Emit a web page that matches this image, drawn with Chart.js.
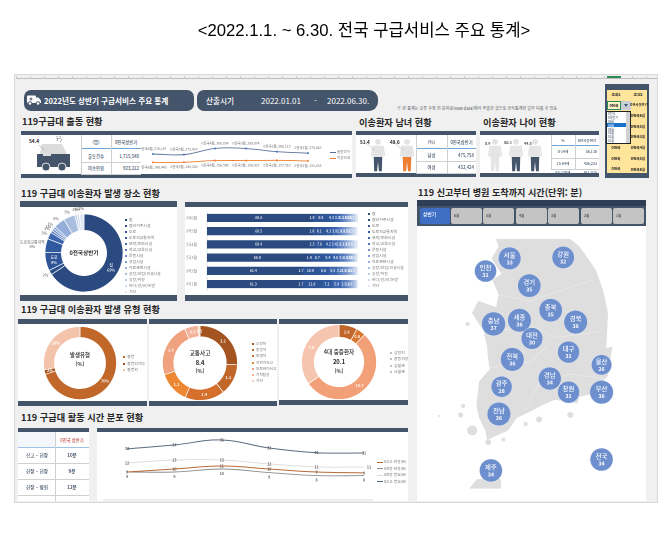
<!DOCTYPE html>
<html lang="ko"><head><meta charset="utf-8">
<style>
html,body{margin:0;padding:0;background:#fff;width:672px;height:553px;overflow:hidden}
#root{position:absolute;left:0;top:0;width:672px;height:553px;font-family:"Liberation Sans","Noto Sans CJK KR",sans-serif}
#dash{position:absolute;left:0;top:0;width:672px;height:553px;font-family:"Noto Sans CJK KR",sans-serif;filter:blur(.45px)}
.a{position:absolute;box-sizing:border-box}
.t{position:absolute;white-space:nowrap;line-height:1}
canvas{position:absolute}
svg{display:block}
</style>
<script src="https://cdn.jsdelivr.net/npm/chart.js@4"></script>
</head><body><div id="root"><div id="dash"></div></div>
<script>
// ---------- data ----------
const pageTitle = "<2022.1.1. ~ 6.30. 전국 구급서비스 주요 통계>";
const monthLabels = ["0전국6월","0전국5월","0전국4월","0전국3월","0전국2월","0전국1월"];
const dispatchCount = [276197,273437,300054,299874,286115,279863];
const transportCount = [148440,149200,156580,156427,157510,155055];
const placeLabels = ["집","집단거주시설","도로","도로외교통지역","오락/문화시설","학교/교육시설","운동시설","상업시설","의료관련시설","공장/산업/건설시설","농장/어장","바다/강/산/논밭","기타"];
const placeShare = [69,2,8,6,3,1,1,1,5,5,1,1,2];
const placeJun = [68.6,1.9,9.8,4.3,3.3,2.2,1.9,1.6,1.5,1.3,1.2,1.0,1.4];
const placeMay = [68.5,1.8,8.1,4.3,3.8,2.4,2.0,1.7,1.6,1.5,1.3,1.0,1.5];
const placeApr = [68.4,2.3,7.6,4.2,3.4,2.5,2.1,1.8,1.7,1.6,1.3,1.1,1.6];
const placeMar = [66.8,1.9,8.7,5.4,4.6,3.5,1.9,1.6,1.5,1.3,1.0,0.5,0.9];
const placeFeb = [61.4,1.7,10.8,6.6,5.5,3.2,2.8,1.9,1.7,1.3,1.1,0.8,1.2];
const placeJan = [61.3,1.7,12.8,7.2,5.9,3.5,1.6,1.4,1.2,1.0,0.8,0.7,1.0];
const typeLabels = ["질병","질병외기타","질병외"];
const typeValues = [70,2,28];
const trafficLabels = ["운전자","동승자","보행자","자전거사고","오토바이사고","기차탑승","기타"];
const trafficValues = [2.1,1.1,1.4,1.1,1.9,0.5,0.05];
const severeLabels = ["심정지","중증외상","심혈관","뇌혈관"];
const severeValues = [1.6,0.8,10.7,7.0];
const timeSeriesNames = ["0신고-현장(분)","0현장-현장(분)","0현장-병원(분)","0신고-병원(분)"];
const callToScene = [9,10,11,10,9,8.7];
const sceneOnSite = [9,9,10,8.8,7.8,7.8];
const sceneToHospital = [12,13,13,11.7,10.7,10.7];
const callToHospital = [32.6,34.1,36,32.9,31.1,31];
const regionNames = ["서울","강원","인천","경기","충북","경북","세종","충남","대전","대구","전북","울산","경남","광주","창원","부산","전남","제주","전국"];
const regionMinutes = [33,32,31,35,35,36,36,37,30,31,36,26,34,28,31,36,36,34,34];
const regionLon = [127.2,129.0,126.39,127.86,128.58,129.42,127.53,126.66,127.95,129.18,127.29,130.29,128.55,126.93,129.18,130.29,126.84,126.57,130.29];
const regionLat = [38.44,38.46,38.16,37.84,37.30,37.04,37.08,37.0,36.68,36.38,36.22,36.10,35.80,35.62,35.50,35.50,35.02,33.78,34.02];
const landLon = [126.75,129.24,129.54,130.08,130.35,130.50,130.44,130.65,130.59,130.50,129.93,129.54,129.48,128.73,128.43,127.83,127.44,127.14,126.45,126.39,126.18,126.09,126.18,126.54,126.48,126.45,126.33,125.94,126.15,126.75,126.84,126.63,126.93,126.60,126.84,126.75];
const landLat = [38.86,38.86,38.70,38.20,37.70,37.24,36.46,36.50,36.26,35.86,35.46,35.40,35.26,35.34,35.26,35.06,34.94,34.66,34.46,34.66,34.94,35.20,35.74,36.00,36.26,36.50,36.84,37.24,37.50,37.36,37.64,37.96,38.10,38.44,38.70,38.86];
const jejuLon = [125.85,126.09,126.69,126.90,126.90,125.85];
const jejuLat = [33.38,33.58,33.62,33.58,33.38,33.38];
const islandLon = [125.94,125.55,125.64,124.83,126.48,126.99,128.19,129.24,127.74,125.79];
const islandLat = [34.66,35.0,35.2,34.98,34.40,34.46,34.9,35.0,34.8,37.0];
const borderLon = [126.84,127.89,128.94,129.99,null,126.39,127.89,128.79,130.35,null,126.54,127.89,128.43,null,127.74,128.19,129.24,130.44];
const borderLat = [37.64,37.50,37.74,37.96,null,36.80,36.96,36.70,36.84,null,36.04,36.16,36.50,null,35.10,35.70,35.90,35.80];
const sliceLabels = ["상반기","6월","5월","4월","3월","2월","1월"];

// ---------- helpers ----------
const NAVY="#44546a", LEG="#737373", INK="#262626";
const dash=document.getElementById("dash");
function box(x,y,w,h,css){const d=document.createElement("div");d.className="a";d.style.cssText=`left:${x}px;top:${y}px;width:${w}px;height:${h}px;${css||""}`;dash.appendChild(d);return d;}
function txt(x,y,s,size,color,weight,align,parent){const d=document.createElement("div");d.className="t";d.textContent=s;
 const tx=align==="c"?"-50%":align==="r"?"-100%":"0";
 d.style.cssText=`left:${x}px;top:${y}px;font-size:${size}px;color:${color||INK};font-weight:${weight||400};transform:translate(${tx},-50%)`;(parent||dash).appendChild(d);return d;}
function legend(x,y,step,labels,colors,size){labels.forEach((l,i)=>{box(x,y+i*step-1,2,2,`background:${colors[i]}`);txt(x+4,y+i*step,l,size||4.2,LEG);});}
function panel(x,y,w,h,bandTop,bandBot){box(x,y,w,h,"background:#fff");box(x,y,w,bandTop,`background:${NAVY}`);box(x,y+h-bandBot,w,bandBot,`background:${NAVY}`);}
function svg(x,y,w,h,inner){const d=box(x,y,w,h);d.innerHTML=`<svg width="${w}" height="${h}" viewBox="0 0 ${w} ${h}" xmlns="http://www.w3.org/2000/svg">${inner}</svg>`;}
function chart(x,y,w,h,cfg){const c=document.createElement("canvas");c.width=w;c.height=h;c.style.cssText=`left:${x}px;top:${y}px;width:${w}px;height:${h}px`;dash.appendChild(c);
 cfg.options=Object.assign({responsive:false,animation:false,devicePixelRatio:2},cfg.options||{});
 cfg.options.plugins=Object.assign({legend:{display:false},tooltip:{enabled:false}},cfg.options.plugins||{});
 return new Chart(c,cfg);}
const KR='"Noto Sans CJK KR"';
function miniTable(x,y,widths,rowH,rows,size){
 let cy=y;const W=widths[0]+widths[1];
 rows.forEach((r,i)=>{
  txt(x+widths[0]/2,cy+rowH[i]/2,r[0],size,"#44546a",500,"c");
  txt(i?x+W-2:x+widths[0]+widths[1]/2,cy+rowH[i]/2,r[1],size,"#44546a",500,i?"r":"c");
  cy+=rowH[i];
  box(x,cy-(i?0.5:1),W,i?1:1.4,`background:${i?"#cfcfcf":"#6ea6d9"}`);
 });
 box(x,y,1,cy-y,"background:#cfcfcf");box(x+widths[0],y,1,cy-y,"background:#cfcfcf");
}

// ---------- frame ----------
const title=document.createElement("div");title.className="t";title.textContent=pageTitle;
title.style.cssText="left:364px;top:31px;font-size:16.7px;color:#000;transform:translate(-50%,-50%)";document.getElementById("root").appendChild(title);
box(14,74,644,429,"background:#f0f0f0;border:1px solid #d8d8d8");
box(16,78,641,1,"background:#bdbdbd");
box(16,76,641,3,"background-image:repeating-linear-gradient(90deg,#c8c8c8 0 1px,transparent 1px 14px)");
box(607,76,14,2,"background:#2e8b57");

// header pills
box(24,90,170,21,`background:${NAVY};border-radius:7px`);
box(197,90,181,21,`background:${NAVY};border-radius:7px 9px 9px 7px`);
svg(26,94,16,12,'<rect x="1" y="1.5" width="9" height="7.5" rx="1" fill="#fff"/><path d="M10 3.5h2.5l2.5 3v2.5h-5z" fill="#fff"/><circle cx="4" cy="9.5" r="1.8" fill="#fff" stroke="#44546a"/><circle cx="12" cy="9.5" r="1.8" fill="#fff" stroke="#44546a"/><path d="M5 3.5v3M3.5 5h3" stroke="#44546a" stroke-width="1"/>');
txt(44,100.5,"2022년도 상반기 구급서비스 주요 통계",7.6,"#fff",700);
txt(206,100.5,"산출시기",7.6,"#fff",500);
txt(261,100.5,"2022.01.01",8,"#fff",400);
txt(314,100.5,"-",8,"#fff",400);
txt(327,100.5,"2022.06.30.",8,"#fff",400);
txt(397,108,"※ 본 통계는 오류 수정 전 원자료(Raw data)에서 추출한 것으로 공식통계와 일부 다를 수 있음",4.1,"#595959");

// section titles
txt(22,122,"119구급대 출동 현황",9.2,INK,600);
txt(359,123,"이송환자 남녀 현황",9.2,INK,600);
txt(483,123,"이송환자 나이 현황",9.2,INK,600);
txt(21,194,"119 구급대 이송환자 발생 장소 현황",9.2,INK,600);
txt(21,310,"119 구급대 이송환자 발생 유형 현황",9.2,INK,600);
txt(21,418,"119 구급대 활동 시간 분포 현황",9.2,INK,600);
txt(418,193,"119 신고부터 병원 도착까지 시간(단위: 분)",9.1,INK,600);

// ---------- dispatch row ----------
panel(21,131,331,47,4,4);
svg(21,135,60,39,`<path d="M21 9h20l6 12v6H17z" fill="#dcdcdc"/><path d="M18 10l14 13" stroke="#a6a6a6" stroke-width=".7"/><path d="M16 19h33v13H16z" fill="#44546a"/><circle cx="25" cy="32" r="4" fill="#44546a" stroke="#fff" stroke-width=".8"/><circle cx="41" cy="32" r="4" fill="#44546a" stroke="#fff" stroke-width=".8"/><rect x="22" y="15" width="8" height="6" fill="#dcdcdc"/><path d="M36 6l1-3M39 7l2-3" stroke="#666" stroke-width=".6"/>`);
txt(29,141,"54.4",4.8,"#262626",700);
txt(56,138,"1.2",3.6,"#595959");
miniTable(81,135,[30,30],[14,13,12],[["(명)","0전국상반기"],["출동건수","1,715,540"],["이송인원","923,212"]],4.3);
const pointText={id:"pointText",afterDatasetsDraw(c){const g=c.ctx;g.save();g.font=`3.4px ${KR}`;g.fillStyle="#666";g.textAlign="center";
 c.data.datasets.forEach((d,i)=>c.getDatasetMeta(i).data.forEach((p,j)=>{g.fillText(`${c.data.labels[j]}, ${d.data[j].toLocaleString("en-US")}`,p.x,p.y+(i?6:-4));}));g.restore();}};
chart(141,135,211,39,{type:"line",data:{labels:monthLabels,datasets:[
 {data:dispatchCount,borderColor:"#5b7297",borderWidth:.9,pointRadius:1,pointBackgroundColor:"#4472c4",pointBorderWidth:0,tension:.4,yAxisID:"y"},
 {data:transportCount,borderColor:"#ed7d31",borderWidth:.9,pointRadius:1,pointBackgroundColor:"#ed7d31",pointBorderWidth:0,tension:.4,yAxisID:"y2"}]},
 options:{layout:{padding:{left:12,right:44,top:0,bottom:0}},scales:{x:{display:false,offset:false},y:{display:false,min:207000,max:341000},y2:{display:false,min:115000,max:251500}}},plugins:[pointText]});
box(330,152,6,.8,"background:#5b7297");box(330,158,6,.8,"background:#ed7d31");
txt(337,152.4,"출동건수",3.6,LEG);txt(337,158.4,"이송인원",3.6,LEG);

// ---------- gender ----------
function person(cx,top,s,body,legs){return `<g transform="translate(${cx},${top}) scale(${s})"><circle cx="0" cy="3" r="3" fill="#e3e3e3"/><path d="M-5 7h10l1 12h-12z" fill="${body}"/><path d="M-5 7l-2 11M5 7l2 11" stroke="${body}" stroke-width="1.6"/><path d="M-4.5 19h9l-.5 15h-3l-1-10-1 10h-3z" fill="${legs}"/></g>`;}
panel(356,131,120,46,4,4);
svg(356,135,60,38,person(22,4,.95,"#e3e3e3","#44546a")+person(51,4,.95,"#e3e3e3","#ed7d31")+'<path d="M9 7l9 8M37 7l10 8" stroke="#a6a6a6" stroke-width=".5" fill="none"/>');
txt(360,141.5,"51.4",4.6,"#262626",700);txt(390,141.5,"48.6",4.6,"#262626",700);
miniTable(416,135,[31,29],[14,12,12],[["(%)","0전국상반기"],["남성","475,758"],["여성","452,424"]],4.3);

// ---------- age ----------
panel(480,131,119,46,4,4);
svg(480,135,71,38,person(15,4,.95,"#e5e5e5","#e5e5e5")+person(36,4,.95,"#e5e5e5","#44546a")+person(55,4,.95,"#e5e5e5","#44546a"));
txt(485,144,"5.9",3.8,"#262626",500);txt(504,143,"50.3",3.8,"#262626",500);txt(524,144,"44.5",3.8,"#262626",500);
miniTable(551,135,[24,24],[11,12,11],[["%","0전국상반기"],["0-14세","56,116"],["15-64세","456,223"]],3.6);
txt(563,173,"65-120세",3.6,"#44546a",500,"c");txt(597,172.5,"411,015",3.6,"#44546a",500,"r");

// ---------- selector ----------
box(605,84,44,94,`background:${NAVY}`);
box(607,90,40,83,"background:#ffe49b");
txt(616,95,"조회1",3.8,"#262626",700,"c");txt(638,95,"조건2",3.8,"#262626",700,"c");
box(607,101,14,9,"background:#fff3c9;border:1px solid #2e8b57");
txt(614,105.5,"0전국",3.8,"#262626",700,"c");
box(621,101,10,9,"background:#c9ced6");
svg(623,103,6,5,'<path d="M1 1h4L3 4z" fill="#44546a"/>');
txt(639,105,"0전국상반기",3.4,"#262626",700,"c");
box(606,111,25,33,"background:#fff;border:1px solid #222");
["전국","상반기","6월","5월","4월","3월","2월","1월"].forEach((s,i)=>{if(i===3)box(607,123.2,19,3.6,"background:#1a73c8");txt(608,114.4+i*3.8,"0"+s,3,i===3?"#fff":"#44546a");});
box(626,112,4,31,"background:#d0d0d0");
["0전국6월","0전국5월","0전국3월","0전국4월","0전국5월","0전국6월"].forEach((s,i)=>{txt(638,116+i*10.7,s,3.7,"#262626",700,"c");});
[148,159,169].forEach(y=>txt(616,y,"0전국",3.7,"#262626",700,"c"));

// ---------- place doughnut ----------
const blues=["#2a4a80","#2c4e88","#2f5597","#305a9f","#3d66ae","#5379bd","#6a8bc7","#7f9cd0","#94add9","#a9bde1","#bdcde9","#d0dcf0","#e3eaf6"];
panel(20,201,157,100,6,6);
const placeLabelsPlugin={id:"placeLab",afterDatasetsDraw(c){const g=c.ctx;g.save();const cx=c.getDatasetMeta(0).data[0].x,cy=c.getDatasetMeta(0).data[0].y;g.textAlign="center";g.textBaseline="middle";
 c.getDatasetMeta(0).data.forEach((a,i)=>{const m=(a.startAngle+a.endAngle)/2,v=placeShare[i]+"%";
  if(i===0||i===2){g.fillStyle="#fff";g.font=`500 3.8px ${KR}`;const r=(a.innerRadius+a.outerRadius)/2,x=cx+Math.cos(m)*r,y=cy+Math.sin(m)*r;g.fillText(placeLabels[i],x,y-2.5);g.fillText(v,x,y+2.5);}
  else{const oi=a.outerRadius,r=oi+5.5,x=cx+Math.cos(m)*r,y=cy+Math.sin(m)*r;g.strokeStyle="#bfbfbf";g.lineWidth=.3;g.beginPath();g.moveTo(cx+Math.cos(m)*oi,cy+Math.sin(m)*oi);g.lineTo(cx+Math.cos(m)*(oi+3),cy+Math.sin(m)*(oi+3));g.stroke();g.fillStyle="#595959";g.font=`3.8px ${KR}`;
   if(i===3){g.fillText(placeLabels[i],x-8,y-2.5);g.fillText(v,x-8,y+2);}else g.fillText(v,x,y);}
 });
 g.fillStyle="#262626";g.font=`700 5.6px ${KR}`;g.fillText("0전국상반기",cx,cy);g.restore();}};
chart(19,207,130,92,{type:"doughnut",data:{labels:placeLabels,datasets:[{data:placeShare,backgroundColor:blues,borderColor:"#fff",borderWidth:.7}]},options:{radius:39,cutout:"58%"},plugins:[placeLabelsPlugin]});
legend(125,219.5,6.05,placeLabels,blues,3.9);

// ---------- place bars ----------
panel(185,202,223,99,5,6);
const barText={id:"barText",afterDatasetsDraw(c){const g=c.ctx;g.save();g.font=`500 3.5px ${KR}`;g.fillStyle="#fff";g.textAlign="center";g.textBaseline="middle";
 c.data.datasets.forEach((d,i)=>{if(i>9)return;c.getDatasetMeta(i).data.forEach((b,j)=>{const v=d.data[j];if(v>=1.3)g.fillText(v.toFixed(1),(b.base+b.x)/2,b.y);});});g.restore();}};
const placeRows=[placeJun,placeMay,placeApr,placeMar,placeFeb,placeJan];
chart(186,207,172,88,{type:"bar",data:{labels:monthLabels,datasets:placeLabels.map((l,k)=>({label:l,data:placeRows.map(r=>r[k]),backgroundColor:blues[k],barThickness:7.5}))},
 options:{indexAxis:"y",layout:{padding:{top:3.2,bottom:3.2}},scales:{x:{display:false,stacked:true,min:0,max:100},
 y:{stacked:true,grid:{display:false},border:{color:"#d9d9d9",width:.7},ticks:{font:{size:3.8,family:KR},color:"#7f7f7f",padding:2},afterFit(s){s.width=21;}}}},plugins:[barText]});
legend(368,214,6.0,placeLabels,blues,3.9);

// ---------- type doughnuts ----------
function arcValueLabels(fmt){return {id:"arcVal",afterDatasetsDraw(c){const g=c.ctx;g.save();g.fillStyle="#fff";g.font=`700 3.8px ${KR}`;g.textAlign="center";g.textBaseline="middle";
 const d=c.data.datasets[0].data;c.getDatasetMeta(0).data.forEach((a,i)=>{const m=(a.startAngle+a.endAngle)/2,r=(a.innerRadius+a.outerRadius)/2;g.fillText(fmt(d[i]),a.x+Math.cos(m)*r,a.y+Math.sin(m)*r);});g.restore();}};}
panel(18,319,129,87,5,5);
const typeColors=["#c1672a","#a9551f","#f4c3ac"];
chart(18,324,129,78,{type:"doughnut",data:{labels:typeLabels,datasets:[{data:typeValues,backgroundColor:typeColors,borderColor:"#fff",borderWidth:.7}]},options:{radius:36.5,cutout:"70%",layout:{padding:{right:5,bottom:0}}},plugins:[arcValueLabels(v=>v+"%")]});
txt(80,356,"발생유형",5.4,"#262626",500,"c");txt(80,365,"(%)",5.4,"#262626",500,"c");
legend(123,357,6.6,typeLabels,typeColors,3.9);

panel(149,319,128,87,5,5);
const trafficColors=["#a35420","#c1672a","#d4702c","#ee8733","#f0a27e","#f2b39a","#f7cdb9"];
chart(149,324,102,78,{type:"doughnut",data:{labels:trafficLabels,datasets:[{data:trafficValues,backgroundColor:trafficColors,borderColor:"#fff",borderWidth:.7}]},options:{radius:37.5,cutout:"70%"},plugins:[arcValueLabels(v=>v.toFixed(1))]});
txt(200,354,"교통사고",5.6,"#262626",500,"c");txt(200,363,"8.4",5.8,"#262626",700,"c");txt(200,372,"(%)",5.4,"#262626",500,"c");
legend(252,344,6.2,trafficLabels,trafficColors,3.7);

panel(279,319,129,86,5,5);
const severeColors=["#c1672a","#d8762d","#f2a077","#f5c5b0"];
chart(279,324,120,76,{type:"doughnut",data:{labels:severeLabels,datasets:[{data:severeValues,backgroundColor:severeColors,borderColor:"#fff",borderWidth:.7}]},options:{radius:37.5,cutout:"66%"},plugins:[arcValueLabels(v=>v.toFixed(1))]});
txt(339,353,"4대 중증환자",5.6,"#262626",500,"c");txt(339,362,"20.1",5.8,"#262626",700,"c");txt(339,372,"(%)",5.4,"#262626",500,"c");
legend(390,353,6.4,severeLabels,["#bfbfbf","#bfbfbf","#bfbfbf","#bfbfbf"],3.9);

// ---------- time table + lines ----------
box(18,428,71,73,"background:#fff");box(18,428,71,4,`background:${NAVY}`);
box(18,432,38,15,"background:#f3f7fb");
txt(72,440,"0전국 상반기",4.3,"#c0504d",500,"c");
box(18,446.5,71,1.2,"background:#9dc3e6");
[["신고 – 현장","10분"],["현장 – 현장","9분"],["현장 – 병원","12분"]].forEach((r,i)=>{const y=455+i*16;txt(37,y,r[0],4.6,"#44546a",500,"c");txt(72,y,r[1],4.6,"#44546a",700,"c");box(18,463+i*16,71,.8,"background:#d0d0d0");});
box(55,432,.8,69,"background:#d0d0d0");

box(97,428,311,73,"background:#fff");box(97,428,311,4,`background:${NAVY}`);
box(103,499,270,1.5,"background:#efefef");
const timeColors=["#b86a35","#8c8c8c","#dcdcdc","#5c6b82"];
const timeText={id:"timeText",afterDatasetsDraw(c){const g=c.ctx;g.save();g.font=`500 3.7px ${KR}`;g.fillStyle="#404040";g.textAlign="center";g.textBaseline="middle";
 c.data.datasets.forEach((d,i)=>c.getDatasetMeta(i).data.forEach((p,j)=>{g.fillText(String(Math.round(d.data[j])),p.x+(i===2&&j===5?5:0),p.y+(i===1?4.6:0));}));g.restore();}};
chart(98,432,310,68,{type:"line",data:{labels:monthLabels,datasets:[
 {label:timeSeriesNames[0],data:callToScene,borderColor:timeColors[0],borderWidth:1,pointRadius:0,tension:.4},
 {label:timeSeriesNames[1],data:sceneOnSite,borderColor:timeColors[1],borderWidth:.9,pointRadius:0,tension:.4},
 {label:timeSeriesNames[2],data:sceneToHospital,borderColor:timeColors[2],borderWidth:.9,pointRadius:0,tension:.4},
 {label:timeSeriesNames[3],data:callToHospital,borderColor:timeColors[3],borderWidth:1,pointRadius:0,tension:.4,yAxisID:"y2"}]},
 options:{layout:{padding:{left:29,right:44}},scales:{x:{display:false,offset:false},y:{display:false,min:-.33,max:22.33},y2:{display:false,min:12.9,max:39.08}}},plugins:[timeText]});
timeSeriesNames.forEach((n,i)=>{const y=462+i*6.4;box(377,y,6,.9,`background:${timeColors[i]}`);txt(384,y+.4,n,3.6,LEG);});

// ---------- map ----------
box(417,200,229,7,"background:#2f3e55");
box(417,206,229,20,`background:${NAVY}`);
box(420,208,30,16,"background:#3f6fc4;border-radius:2px");
txt(423,214,sliceLabels[0],4.8,"#fff",500);
const slicerX=[451,483,516,548,581,613];
slicerX.forEach((x,i)=>{box(x,208,31,16,"background:#c4c4c4;border-radius:2px");txt(x+3,216,sliceLabels[i+1],3.6,"#404040",500);});
box(417,226,229,275,"background:#fff");
const regionText={id:"regionText",afterDatasetsDraw(c){const g=c.ctx;g.save();g.textAlign="center";g.textBaseline="middle";g.fillStyle="#fff";
 c.getDatasetMeta(c.data.datasets.length-1).data.forEach((p,i)=>{g.font=`500 6.4px ${KR}`;g.fillText(regionNames[i],p.x,p.y-3.4);g.font=`700 5.4px ${KR}`;g.fillText(String(regionMinutes[i]),p.x,p.y+4);});g.restore();}};
const landStyle={type:"scatter",showLine:true,fill:"shape",backgroundColor:"#dedede",borderColor:"#dedede",borderWidth:.5,pointRadius:0,order:4};
chart(417,226,229,275,{type:"scatter",data:{datasets:[
 Object.assign({data:landLon.map((x,i)=>({x,y:landLat[i]}))},landStyle),
 Object.assign({data:jejuLon.map((x,i)=>({x,y:jejuLat[i]}))},landStyle),
 {type:"scatter",order:3,data:islandLon.map((x,i)=>({x,y:islandLat[i]})),backgroundColor:"#dedede",pointRadius:[5,2.5,2,1,3,2,3,3,2,2],pointBorderWidth:0},
 {type:"scatter",order:2,showLine:true,fill:false,data:borderLon.map((x,i)=>({x,y:borderLat[i]})),borderColor:"#ececec",borderWidth:.7,pointRadius:0},
 {type:"bubble",order:1,data:regionLon.map((x,i)=>({x,y:regionLat[i],r:6+regionMinutes[i]*.16})),backgroundColor:"#6d8fcd",borderColor:"#e8edf6",borderWidth:.4}]},
 options:{layout:{padding:0},scales:{x:{display:false,type:"linear",min:124.5,max:131.37},y:{display:false,min:33.38,max:38.88}}},plugins:[regionText]});
</script></body></html>
